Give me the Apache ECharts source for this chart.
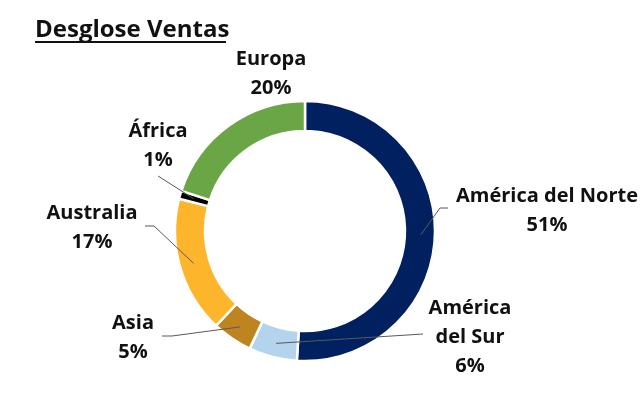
<!DOCTYPE html>
<html><head><meta charset="utf-8">
<script src="https://cdn.jsdelivr.net/npm/echarts@6/dist/echarts.min.js"></script>
<style>html,body{margin:0;padding:0;background:#fff}#c{width:643px;height:395px}</style>
</head><body><div id="c"></div>
<script>
// ---- data ----
const categories = ['América del Norte', 'América del Sur', 'Asia', 'Australia', 'África', 'Europa'];
const labelNames = ['América del Norte', 'América\ndel Sur', 'Asia', 'Australia', 'África', 'Europa'];
const values = [51, 6, 5, 17, 1, 20];
const colors = ['#002060', '#B4D3EC', '#BE8420', '#FDB62B', '#000000', '#6AA546'];

// ---- label placement (style) ----
const labelCenters = [[547, 211], [470, 337], [133, 338], [92, 228], [158, 146], [271, 74]];
const lineTails = [
  [[440, 208], [448, 208]],
  [[423, 334], [423, 334]],
  [[172, 336], [162, 336]],
  [[154, 226], [145, 226]],
  [[158, 176], [158, 176]],
  null
];
const cx = 305, cy = 231, rIn = 100, rOut = 130;
const rMid = (rIn + rOut) / 2 + 1;
const total = values.reduce((a, b) => a + b, 0);
function anchor(i) {
  let before = 0;
  for (let k = 0; k < i; k++) before += values[k];
  const a = (before + values[i] / 2) / total * 2 * Math.PI;
  return [cx + rMid * Math.sin(a), cy - rMid * Math.cos(a)];
}

const common = {
  type: 'pie',
  center: [cx, cy],
  radius: [rIn, rOut],
  startAngle: 90,
  clockwise: true,
  avoidLabelOverlap: false,
  emphasis: {disabled: true},
  silent: true
};

const chart = echarts.init(document.getElementById('c'), null, {renderer: 'canvas'});
chart.setOption({
  animation: false,
  backgroundColor: '#fff',
  graphic: [
    {type: 'text', left: 35, top: 18, style: {text: 'Desglose Ventas', font: 'bold 24px "Open Sans"', fill: '#111'}},
    {type: 'rect', shape: {x: 35, y: 41, width: 191, height: 2}, style: {fill: '#111'}}
  ],
  series: [
    Object.assign({}, common, {
      z: 2,
      itemStyle: {borderColor: '#fff', borderWidth: 2.5},
      label: {show: false},
      labelLine: {show: false},
      data: categories.map((c, i) => ({name: c, value: values[i], itemStyle: {color: colors[i]}}))
    }),
    Object.assign({}, common, {
      z: 5,
      itemStyle: {color: 'rgba(0,0,0,0)', borderWidth: 0},
      label: {
        show: true,
        position: 'outside',
        formatter: p => labelNames[p.dataIndex] + '\n' + p.value + '%',
        color: '#111',
        fontFamily: 'Open Sans',
        fontWeight: 'bold',
        fontSize: 20,
        lineHeight: 29,
        align: 'center'
      },
      labelLine: {show: true, length: 5, length2: 5, lineStyle: {color: '#595959', width: 1}},
      labelLayout: function (params) {
        const i = params.dataIndex;
        const res = {x: labelCenters[i][0], y: labelCenters[i][1], align: 'center', verticalAlign: 'middle'};
        if (lineTails[i]) res.labelLinePoints = [anchor(i)].concat(lineTails[i]);
        return res;
      },
      data: categories.map((c, i) => ({
        name: c,
        value: values[i],
        labelLine: {show: lineTails[i] !== null}
      }))
    })
  ]
});
</script>
</body></html>
